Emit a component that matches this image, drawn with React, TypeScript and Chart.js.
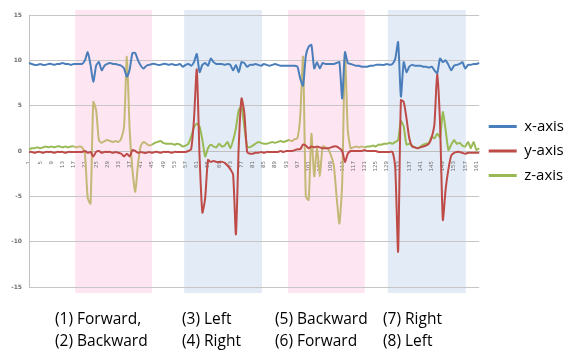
import React, { useEffect, useRef } from 'react';
import { Chart, registerables } from 'chart.js';

Chart.register(...registerables);

const categories: string[] = Array.from({ length: 162 }, (_, i) => String(i + 1));

const xAxisValues = [
  9.7, 9.6, 9.5, 9.5, 9.6, 9.5, 9.5, 9.6, 9.6, 9.5,
  9.6, 9.6, 9.7, 9.6, 9.6, 9.5, 9.6, 9.6, 9.6, 9.6,
  10.0, 10.9, 9.5, 7.6, 9.4, 9.8, 8.9, 9.4, 9.6, 9.7,
  9.6, 9.6, 9.5, 9.4, 9.1, 8.2, 9.0, 10.8, 10.8, 10.0,
  9.4, 9.1, 9.4, 9.5, 9.6, 9.6, 9.5, 9.5, 9.6, 9.6,
  9.5, 9.6, 9.5, 9.5, 9.6, 9.3, 9.5, 9.6, 9.4, 9.8,
  10.7, 8.7, 9.5, 9.7, 9.4, 10.2, 9.8, 9.6, 9.6, 9.6,
  9.5, 9.6, 9.5, 8.9, 9.5, 8.7, 9.8, 9.7, 9.3, 9.5,
  9.5, 9.6, 9.5, 9.4, 9.6, 9.5, 9.4, 9.5, 9.6, 9.5,
  9.4, 9.4, 9.4, 9.4, 9.4, 9.4, 9.3, 8.0, 7.2, 10.5,
  11.5, 11.7, 9.1, 9.8, 9.1, 9.7, 9.6, 9.6, 9.6, 9.6,
  9.7, 9.8, 5.8, 10.9, 9.7, 9.6, 9.5, 9.4, 9.4, 9.3,
  9.3, 9.3, 9.4, 9.4, 9.5, 9.5, 9.5, 9.5, 9.6, 9.5,
  9.6, 10.2, 12.0, 6.0, 9.8, 8.7, 9.3, 9.5, 9.4, 9.4,
  9.4, 9.3, 9.3, 9.2, 9.3, 8.9, 8.6, 10.2, 9.8, 10.0,
  9.5, 8.9, 9.4, 9.5, 9.6, 9.8, 9.1, 9.5, 9.5, 9.6,
  9.6, 9.7,
];

const yAxisValues = [
  -0.1, -0.1, -0.2, -0.1, -0.1, -0.2, -0.1, -0.1, -0.1, -0.2,
  -0.1, -0.1, -0.1, -0.2, -0.1, -0.1, -0.1, -0.1, -0.1, -0.1,
  0.0, -0.2, -0.1, -0.6, -0.1, 0.0, -0.2, -0.1, -0.1, -0.1,
  -0.2, -0.1, -0.2, -0.3, -0.6, -0.3, -0.6, 0.1, 0.0, -0.2,
  -0.1, -0.2, -0.2, -0.1, -0.2, -0.1, -0.1, -0.2, -0.1, -0.1,
  -0.1, -0.2, -0.1, -0.1, -0.1, -0.1, -0.1, 0.0, 0.2, 3.5,
  9.0, -0.6, -6.8, -5.2, -1.0, -1.2, -1.1, -1.2, -1.2, -1.2,
  -1.3, -1.6, -2.0, -2.6, -9.2, 0.5, 5.8, 4.2, -0.1, -0.3,
  -0.3, -0.2, -0.2, -0.1, -0.2, -0.1, -0.1, -0.1, -0.1, -0.1,
  0.0, -0.1, 0.0, 0.0, 0.0, 0.1, 0.2, 0.2, 0.7, 0.6,
  0.3, 0.5, 0.4, 0.5, 0.4, 0.3, 0.3, 0.3, 0.4, 0.5,
  0.5, 0.3, 0.0, -1.2, -0.3, 0.0, 0.0, 0.0, 0.0, 0.0,
  0.1, 0.0, 0.0, 0.0, 0.0, -0.1, -0.1, -0.1, -0.1, -0.1,
  -0.1, -2.0, -11.1, 5.6, 5.4, 3.6, 1.4, 0.5, 0.4, 0.3,
  0.4, 0.5, 0.6, 0.8, 1.5, 3.0, 8.8, 3.0, -7.6, -4.2,
  -2.0, -0.5, -0.2, -0.1, -0.1, -0.2, -0.3, -0.2, -0.2, -0.2,
  -0.2, -0.2,
];

const zAxisValues = [
  0.2, 0.3, 0.3, 0.4, 0.3, 0.4, 0.5, 0.4, 0.5, 0.4,
  0.5, 0.5, 0.4, 0.5, 0.4, 0.5, 0.5, 0.4, 0.5, 0.4,
  -0.3, -5.2, -5.8, 5.4, 4.5, 1.2, 0.9, 1.1, 1.2, 1.1,
  1.0, 1.1, 1.0, 1.4, 2.7, 10.4, 2.3, -2.1, -4.5, -1.4,
  0.6, 1.0, 0.8, 0.6, 0.7, 0.9, 1.0, 1.1, 0.9, 0.8,
  0.8, 0.8, 0.7, 0.8, 0.7, 0.5, 0.6, 0.8, 1.6, 2.6,
  3.0, 2.7, 1.2, -0.6, 0.3, 0.7, 0.5, 0.4, 0.8, 0.5,
  0.6, 1.0, 0.3, 1.2, 2.5, 4.5, 4.9, 2.7, 0.5, 0.4,
  0.6, 0.8, 1.0, 0.9, 0.8, 0.8, 0.9, 1.0, 0.9, 1.0,
  1.1, 1.0, 1.1, 1.2, 1.1, 1.3, 1.4, 3.8, 10.4, -5.0,
  -5.4, 1.9, -2.8, 0.5, -2.8, 0.5, 0.4, 0.2, -0.5, -1.6,
  -5.0, -8.0, -3.5, 10.8, 2.3, 0.3, 0.4, 0.5, 0.4, 0.5,
  0.4, 0.5, 0.5, 0.6, 0.5, 0.7, 0.7, 0.8, 0.8, 0.9,
  0.8, 1.0, 1.2, 3.3, 2.7, 0.7, 0.8, 0.6, 0.4, 0.3,
  0.5, 0.7, 0.8, 0.9, 1.6, 1.4, 1.9, 1.5, 4.3, 2.3,
  0.1, 0.7, 1.2, 0.8, 0.9, 0.6, 0.5, 1.0, 0.3, 1.0,
  0.1, 0.3,
];

const seriesNames = ['x-axis', 'y-axis', 'z-axis'];

// shaded movement phases, in category-index units
const bandStart = [16.5, 55.5, 92.6, 128.3];
const bandEnd = [44.0, 83.3, 120.1, 156.2];
const bandKind = ['pink', 'blue', 'pink', 'blue'];

const captionLines = [
  ['(1) Forward,', '(2) Backward'],
  ['(3) Left', '(4) Right'],
  ['(5) Backward', '(6) Forward'],
  ['(7) Right', '(8) Left'],
];
const captionLeft = [55, 182, 275, 383];

const COLORS = {
  x: '#4a7ebb',
  y: '#be4b48',
  z: '#98b954',
  zPink: '#c5b877',
  pink: '#fde6f1',
  blue: '#e3ebf6',
};

const inPink = (i: number) =>
  bandStart.some((s, k) => bandKind[k] === 'pink' && i + 0.5 >= s && i + 0.5 <= bandEnd[k]);

const bandsPlugin = {
  id: 'bands',
  beforeDraw(chart: any) {
    const { ctx, chartArea, scales } = chart;
    const xs = scales.x;
    ctx.save();
    bandStart.forEach((s, i) => {
      const x0 = xs.getPixelForValue(s);
      const x1 = xs.getPixelForValue(bandEnd[i]);
      ctx.fillStyle = bandKind[i] === 'pink' ? COLORS.pink : COLORS.blue;
      ctx.fillRect(x0, chartArea.top - 5, x1 - x0, chartArea.bottom - chartArea.top + 11);
    });
    ctx.restore();
  },
};

export default function App() {
  const canvasRef = useRef<HTMLCanvasElement | null>(null);

  useEffect(() => {
    if (!canvasRef.current) return;
    const chart = new Chart(canvasRef.current, {
      type: 'line',
      data: {
        labels: categories,
        datasets: [
          {
            label: seriesNames[0],
            data: xAxisValues,
            borderColor: COLORS.x,
            backgroundColor: COLORS.x,
            borderWidth: 2,
            pointRadius: 0,
            tension: 0.2,
          },
          {
            label: seriesNames[1],
            data: yAxisValues,
            borderColor: COLORS.y,
            backgroundColor: COLORS.y,
            borderWidth: 2,
            pointRadius: 0,
            tension: 0.2,
          },
          {
            label: seriesNames[2],
            data: zAxisValues,
            borderColor: COLORS.z,
            backgroundColor: COLORS.z,
            borderWidth: 2,
            pointRadius: 0,
            tension: 0.2,
            segment: {
              borderColor: (ctx: any) => (inPink(ctx.p0DataIndex) ? COLORS.zPink : undefined),
            },
          },
        ],
      },
      options: {
        responsive: false,
        animation: false,
        events: [],
        layout: { padding: { top: 15, bottom: 65, left: 0, right: 0 } },
        scales: {
          x: {
            type: 'category',
            position: { y: 0 } as any,
            offset: false,
            grid: { display: false },
            border: { display: true, color: '#bfbfbf' },
            ticks: {
              autoSkip: false,
              minRotation: 90,
              maxRotation: 90,
              padding: 2,
              color: '#6f6f6f',
              font: { family: 'DejaVu Sans', size: 5.5 },
              callback: (_v: any, i: number) => (i % 4 === 0 ? categories[i] : ''),
            },
          },
          y: {
            min: -15,
            max: 15,
            afterFit: (s: any) => {
              s.width = 29;
            },
            grid: { color: '#c6c6c6', drawTicks: false },
            border: { display: true, color: '#bfbfbf' },
            ticks: {
              stepSize: 5,
              padding: 7,
              color: '#6f6f6f',
              font: { family: 'DejaVu Sans', size: 6, weight: 'bold' },
            },
          },
        },
        plugins: {
          tooltip: { enabled: false },
          legend: {
            position: 'right',
            labels: {
              boxWidth: 28,
              boxHeight: 3,
              padding: 9.5,
              color: '#000000',
              font: { family: 'Open Sans', size: 15 },
              generateLabels: (c: any) =>
                (Chart.defaults.plugins.legend.labels as any)
                  .generateLabels(c)
                  .map((l: any) => ({ ...l, lineWidth: 0, fillStyle: l.strokeStyle })),
            },
          },
        },
      },
      plugins: [bandsPlugin],
    } as any);
    return () => chart.destroy();
  }, []);

  return (
    <div
      style={{
        position: 'fixed',
        left: 0,
        top: 0,
        width: 574,
        height: 352,
        background: '#ffffff',
        fontFamily: '"Open Sans", sans-serif',
        overflow: 'hidden',
      }}
    >
      <canvas ref={canvasRef} width={574} height={352} style={{ display: 'block' }} />
      {captionLines.map((lines, i) => (
        <div
          key={i}
          style={{
            position: 'absolute',
            left: captionLeft[i],
            top: 307,
            fontSize: 15.5,
            lineHeight: '22px',
            color: '#000',
            whiteSpace: 'pre',
          }}
        >
          {lines[0]}
          <br />
          {lines[1]}
        </div>
      ))}
    </div>
  );
}
